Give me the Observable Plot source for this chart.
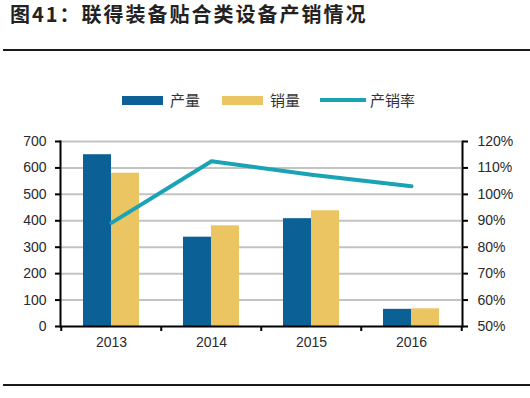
<!DOCTYPE html>
<html>
<head>
<meta charset="utf-8">
<script src="https://cdn.jsdelivr.net/npm/d3@7"></script>
<script src="https://cdn.jsdelivr.net/npm/@observablehq/plot@0.6"></script>
<style>
  html, body { margin: 0; padding: 0; background: #fff; }
  #page { position: relative; width: 530px; height: 398px; overflow: hidden; background: #fff; }
  #title { position: absolute; left: 10px; top: 2px; font-family: "Noto Sans CJK SC", sans-serif; font-weight: 700; font-size: 20px; letter-spacing: 2px; color: #222; white-space: nowrap; line-height: 24px; }
  .hline { position: absolute; left: 3px; width: 527px; height: 2px; background: #1a1a1a; }
  .chart { position: absolute; left: 0; top: 0; }
  #legend { position: absolute; left: 0; top: 0; width: 530px; height: 398px; font-family: "Noto Sans CJK SC", sans-serif; font-size: 15px; color: #333; }
  .sw { position: absolute; }
  .lt { position: absolute; top: 89px; line-height: 22px; white-space: nowrap; }
</style>
</head>
<body>
<div id="page">
  <div id="title">图41：联得装备贴合类设备产销情况</div>
  <div class="hline" style="top:49px"></div>
  <div id="c1" class="chart"></div>
  <div id="c2" class="chart"></div>
  <div id="legend"></div>
  <div class="hline" style="top:384px"></div>
</div>
<script>
// ---- data ----
const years = ["2013", "2014", "2015", "2016"];
const seriesNames = ["产量", "销量"];
const production = [650, 338, 408, 65];
const sales = [580, 381, 438, 67];
const rateName = "产销率";
const rate = [89.2, 112.5, 107.4, 103.1];
const leftTicks = [0, 100, 200, 300, 400, 500, 600, 700];
const rightTicks = [50, 60, 70, 80, 90, 100, 110, 120];
const colors = ["#0b6196", "#ebc562"];
const lineColor = "#19a3b4";

const barData = years.flatMap((yr, i) => [
  {year: yr, series: seriesNames[0], value: production[i]},
  {year: yr, series: seriesNames[1], value: sales[i]}
]);
const rateData = years.map((yr, i) => ({year: yr, rate: rate[i]}));

const W = 530, H = 398;
const mL = 60, mR = 68, mT = 141, mB = 72;
const step = (W - mL - mR) / years.length;
const font = "Arial, 'Liberation Sans', sans-serif";

// ---- bars, left axis, grid ----
const p1 = Plot.plot({
  width: W, height: H,
  marginLeft: mL, marginRight: mR, marginTop: mT, marginBottom: mB,
  style: {background: "transparent", fontFamily: font, fontSize: "14px", color: "#333", overflow: "visible"},
  fx: {domain: years, padding: 0, axis: null, label: null},
  x: {domain: seriesNames, paddingInner: 0, paddingOuter: 0.76, axis: null},
  y: {domain: [0, 700], axis: null},
  color: {domain: seriesNames, range: colors},
  marks: [
    Plot.ruleY(leftTicks.filter(d => d > 0), {stroke: "#c3c3c3", strokeWidth: 2}),
    Plot.barY(barData, {fx: "year", x: "series", y: "value", fill: "series"}),
    Plot.axisY({ticks: leftTicks, tickSize: 6, tickPadding: 9, stroke: "#000", strokeWidth: 2, fill: "#2a2a2a", fontSize: 14, label: null})
  ]
});
document.getElementById("c1").appendChild(p1);

// ---- rate line, right axis, x axis ----
const p2 = Plot.plot({
  width: W, height: H,
  marginLeft: mL, marginRight: mR, marginTop: mT, marginBottom: mB,
  style: {background: "transparent", fontFamily: font, fontSize: "14px", color: "#333", overflow: "visible"},
  x: {type: "point", domain: years, padding: 0.5, axis: null},
  y: {domain: [50, 120], axis: null},
  marks: [
    Plot.line(rateData, {x: "year", y: "rate", stroke: lineColor, strokeWidth: 4}),
    Plot.frame({anchor: "left", stroke: "#000", strokeWidth: 2}),
    Plot.frame({anchor: "right", stroke: "#000", strokeWidth: 2}),
    Plot.ruleY([50], {stroke: "#000", strokeWidth: 2}),
    Plot.axisY({anchor: "right", ticks: rightTicks, tickFormat: d => d + "%", tickSize: 5, tickPadding: 10, stroke: "#000", strokeWidth: 2, fill: "#2a2a2a", fontSize: 14, label: null}),
    Plot.axisX({ticks: years, tickSize: 0, tickPadding: 11, fill: "#2a2a2a", fontSize: 14, label: null}),
    Plot.axisX({ticks: years, tickSize: 5, tickFormat: () => "", dx: -step / 2, stroke: "#000", strokeWidth: 2, label: null}),
    Plot.axisX({ticks: years.slice(-1), tickSize: 5, tickFormat: () => "", dx: step / 2, stroke: "#000", strokeWidth: 2, label: null})
  ]
});
document.getElementById("c2").appendChild(p2);

// ---- legend ----
const lg = document.getElementById("legend");
const items = [
  {name: seriesNames[0], color: colors[0], kind: "rect", x: 122, tx: 170},
  {name: seriesNames[1], color: colors[1], kind: "rect", x: 222, tx: 270},
  {name: rateName, color: lineColor, kind: "line", x: 320, tx: 370}
];
for (const it of items) {
  const s = document.createElement("div");
  s.className = "sw";
  s.style.left = it.x + "px";
  s.style.background = it.color;
  if (it.kind === "rect") { s.style.top = "96px"; s.style.width = "41px"; s.style.height = "9px"; }
  else { s.style.top = "98px"; s.style.width = "46px"; s.style.height = "4px"; }
  lg.appendChild(s);
  const t = document.createElement("div");
  t.className = "lt";
  t.style.left = it.tx + "px";
  t.textContent = it.name;
  lg.appendChild(t);
}
</script>
</body>
</html>
